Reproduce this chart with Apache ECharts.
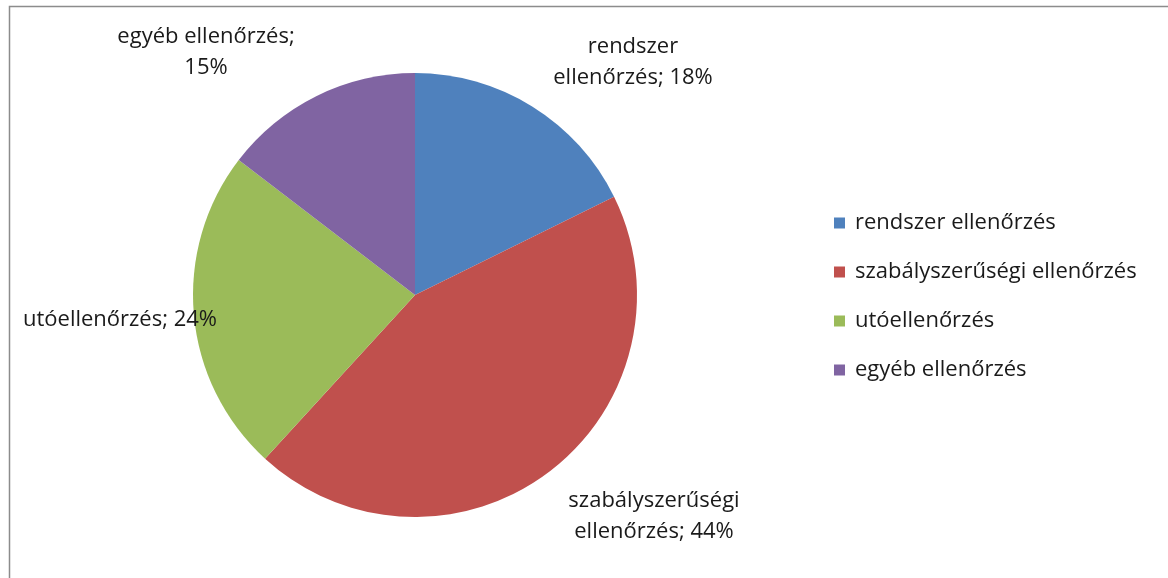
<!DOCTYPE html>
<html><head><meta charset="utf-8">
<script src="https://cdn.jsdelivr.net/npm/echarts@6/dist/echarts.min.js"></script>
<style>html,body{margin:0;padding:0;background:#fff}#c{width:1168px;height:578px}</style>
</head><body><div id="c"></div>
<script>
const categories = ['rendszer ellenőrzés', 'szabályszerűségi ellenőrzés', 'utóellenőrzés', 'egyéb ellenőrzés'];
const values = [17.7, 44.1, 23.6, 14.6];
const labelTexts = ['rendszer\nellenőrzés', 'szabályszerűségi\nellenőrzés', 'utóellenőrzés', 'egyéb ellenőrzés;\n'];
const colors = ['#4F81BD', '#C0504D', '#9BBB59', '#8064A2'];

const labelPos = [[633, 62], [654, 516], [120, 320], [206, 52]];
const font = 'Open Sans';
const chart = echarts.init(document.getElementById('c'), null, {renderer: 'canvas'});
chart.setOption({
  animation: false,
  color: colors,
  graphic: [{type: 'rect', shape: {x: 9.5, y: 6.5, width: 1200, height: 600}, style: {fill: 'none', stroke: '#8c8c8c', lineWidth: 1.5}, silent: true}],
  legend: {
    orient: 'vertical', left: 829, top: 207,
    itemWidth: 11, itemHeight: 11, itemGap: 27,
    icon: 'rect',
    textStyle: {fontFamily: font, fontSize: 22, lineHeight: 22, color: '#1a1a1a', padding: [0, 0, 0, 5]},
    data: categories
  },
  series: [{
    type: 'pie',
    center: [415, 295], radius: 222,
    startAngle: 90, clockwise: true,
    data: categories.map((n, i) => ({name: n, value: values[i]})),
    label: {
      show: true, position: 'outside', overflow: 'none',
      fontFamily: font, fontSize: 22, color: '#1a1a1a', lineHeight: 31, align: 'center',
      formatter: p => {
        const pct = Math.round(p.percent) + '%';
        const t = labelTexts[p.dataIndex];
        if (t.endsWith('\n')) return t + pct;
        return t + '; ' + pct;
      }
    },
    labelLine: {show: false},
    labelLayout: p => ({x: labelPos[p.dataIndex][0], y: labelPos[p.dataIndex][1], align: 'center', verticalAlign: 'middle'}),
    itemStyle: {borderWidth: 0}
  }]
});
</script></body></html>
